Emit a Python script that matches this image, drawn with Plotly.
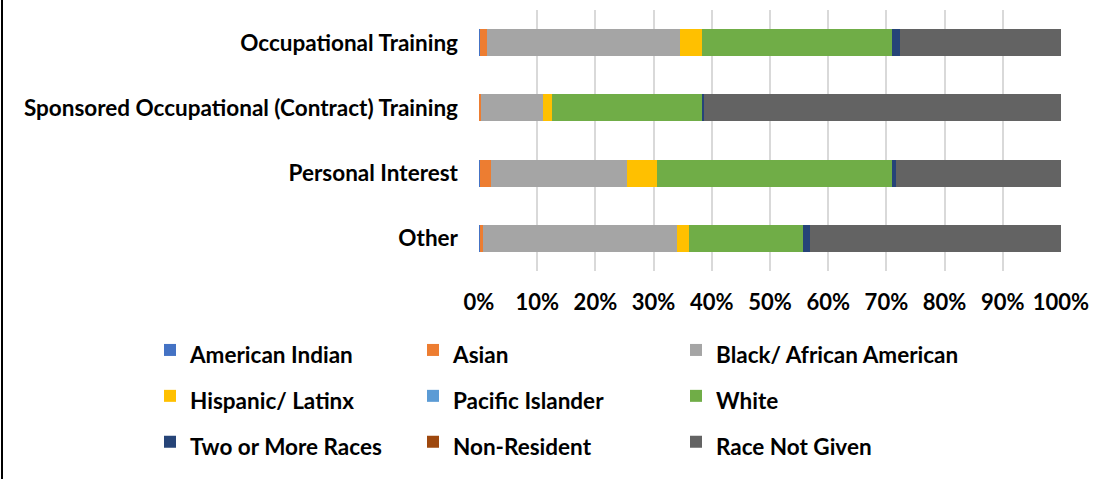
import plotly.graph_objects as go

categories = ["Occupational Training", "Sponsored Occupational (Contract) Training",
              "Personal Interest", "Other"]

series_names = ["American Indian", "Asian", "Black/ African American", "Hispanic/ Latinx",
                "Pacific Islander", "White", "Two or More Races", "Non-Resident", "Race Not Given"]

american_indian = [0.2, 0.0, 0.2, 0.1]
asian = [1.1, 0.3, 1.8, 0.6]
black = [33.2, 10.7, 23.5, 33.3]
hispanic = [3.8, 1.5, 5.0, 2.0]
pacific = [0.0, 0.0, 0.0, 0.0]
white = [32.6, 25.9, 40.5, 19.6]
two_more = [1.4, 0.3, 0.6, 1.3]
non_resident = [0.0, 0.0, 0.0, 0.0]
race_not_given = [27.7, 61.3, 28.4, 43.1]

series_values = [american_indian, asian, black, hispanic, pacific, white,
                 two_more, non_resident, race_not_given]
colors = ["#4472C4", "#ED7D31", "#A5A5A5", "#FFC000", "#5B9BD5", "#70AD47",
          "#264478", "#9E480E", "#636363"]

tick_vals = [0, 0.1, 0.2, 0.3, 0.4, 0.5, 0.6, 0.7, 0.8, 0.9, 1.0]

FONT = "Lato, Open Sans, sans-serif"
FS = 22
FS_LAB = 22.5

fig = go.Figure()
for name, vals, col in zip(series_names, series_values, colors):
    fig.add_trace(go.Bar(
        y=categories, x=[v / 100 for v in vals],
        name='<span style="font-size:%spx">%s</span>' % (FS_LAB, name),
        orientation="h",
        marker=dict(color=col, line=dict(width=0)),
    ))

W, H = 1115, 479
ml, mr, mt, mb = 479, 54, 10, 208
pw = W - ml - mr
ph = H - mt - mb
BW = 36  # invisible legend border, keeps 3 columns

fig.update_layout(
    width=W, height=H,
    barmode="stack", bargap=0.585,
    margin=dict(l=ml, r=mr, t=mt, b=mb, autoexpand=False),
    paper_bgcolor="white", plot_bgcolor="white",
    font=dict(family=FONT, size=FS, color="black"),
    xaxis=dict(range=[0, 1], tickvals=tick_vals, tickformat=".0%",
               showgrid=True, gridcolor="#D9D9D9", gridwidth=1.5,
               zeroline=False, showline=False, ticks="",
               ticklabelstandoff=16,
               tickfont=dict(family=FONT, size=FS, color="black", weight="bold")),
    yaxis=dict(autorange="reversed", showgrid=False, zeroline=False, ticks="",
               ticklabelstandoff=20,
               tickfont=dict(family=FONT, size=FS_LAB, color="black", weight="bold")),
    legend=dict(orientation="h", x=(150 - BW - ml) / pw, xanchor="left",
                y=-(51 - BW) / ph, yanchor="top",
                entrywidth=218, entrywidthmode="pixels",
                bgcolor="rgba(0,0,0,0)", bordercolor="rgba(0,0,0,0)", borderwidth=BW,
                font=dict(family=FONT, size=33, color="black", weight="bold"),
                traceorder="normal", itemsizing="constant", tracegroupgap=0),
    shapes=[dict(type="line", xref="paper", yref="paper",
                 x0=(2 - ml) / pw, x1=(2 - ml) / pw, y0=-mb / ph,
                 y1=1 + mt / ph, line=dict(color="black", width=2))],
)

post = """
document.body.style.margin = '0';
var gd = document.getElementById('{plot_id}');
function unclipLegend() {
  gd.querySelectorAll('.legend .scrollbox').forEach(function (e) {
    e.removeAttribute('clip-path');
  });
}
unclipLegend();
setTimeout(unclipLegend, 0);
if (gd.on) { gd.on('plotly_afterplot', unclipLegend); }
"""

fig.write_html("out.html", config={"displayModeBar": False}, post_script=post)
